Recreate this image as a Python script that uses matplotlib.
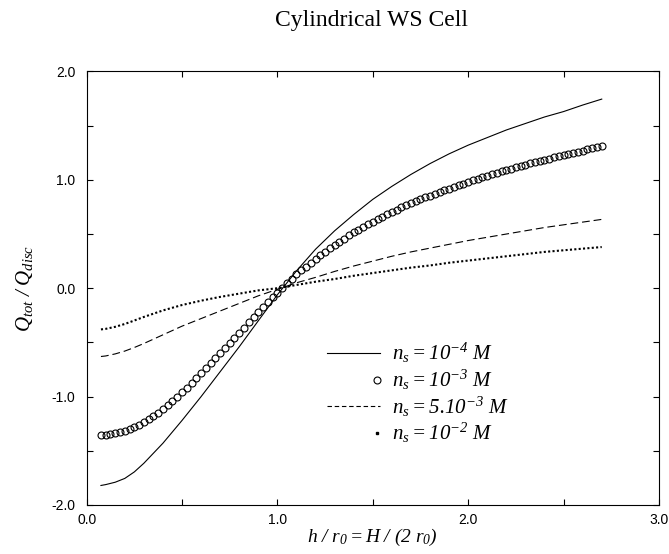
import numpy as np
import matplotlib
matplotlib.use("Agg")
from matplotlib import pyplot as plt
from matplotlib.ticker import MultipleLocator, FormatStrFormatter
from matplotlib.legend_handler import HandlerLine2D
from matplotlib.lines import Line2D

# Times-like italic for all math text, digits included
plt.rcParams['mathtext.fontset'] = 'custom'
plt.rcParams['mathtext.rm'] = 'Liberation Serif:italic'
plt.rcParams['mathtext.it'] = 'Liberation Serif:italic'
plt.rcParams['mathtext.bf'] = 'Liberation Serif:bold'
plt.rcParams['font.family'] = ['Liberation Sans', 'DejaVu Sans']

# h / r0 sampling used for the line curves
x_line = [0.075, 0.1, 0.15, 0.2, 0.25, 0.3, 0.4, 0.5, 0.6, 0.7, 0.8, 0.9, 1.0, 1.1,
          1.2, 1.3, 1.4, 1.5, 1.6, 1.7, 1.8, 1.9, 2.0, 2.1, 2.2, 2.3, 2.4, 2.5,
          2.6, 2.7]

# ns = 1e-4 M (solid)
q_1e4 = [-1.82, -1.812, -1.79, -1.755, -1.695, -1.615, -1.43, -1.22, -1.00, -0.77,
         -0.54, -0.30, -0.06, 0.16, 0.36, 0.53, 0.68, 0.82, 0.94, 1.05, 1.15, 1.24,
         1.32, 1.39, 1.46, 1.52, 1.58, 1.63, 1.69, 1.745]

# ns = 5.10^-3 M (dashed)
q_5e3 = [-0.63, -0.625, -0.606, -0.58, -0.547, -0.51, -0.43, -0.35, -0.28, -0.21,
         -0.14, -0.07, -0.01, 0.05, 0.10, 0.155, 0.205, 0.25, 0.295, 0.335, 0.37,
         0.405, 0.44, 0.47, 0.50, 0.53, 0.56, 0.585, 0.61, 0.635]

# ns = 1e-2 M (dotted)
q_1e2 = [-0.38, -0.375, -0.356, -0.33, -0.298, -0.265, -0.205, -0.155, -0.115, -0.08,
         -0.05, -0.02, 0.0, 0.03, 0.06, 0.085, 0.115, 0.14, 0.165, 0.19, 0.21,
         0.235, 0.255, 0.275, 0.295, 0.315, 0.335, 0.35, 0.365, 0.38]

# ns = 1e-3 M (open circles), one point every 0.025 from 0.075 to 2.7
x_circ = np.round(np.arange(0.075, 2.7001, 0.025), 3)
q_1e3 = [-1.355, -1.350, -1.345, -1.338, -1.328, -1.315, -1.299, -1.280, -1.259, -1.235,
         -1.208, -1.179, -1.148, -1.115, -1.079, -1.041, -1.001, -0.960, -0.917, -0.873,
         -0.829, -0.785, -0.739, -0.693, -0.647, -0.600, -0.553, -0.505, -0.458, -0.410,
         -0.363, -0.315, -0.268, -0.220, -0.174, -0.129, -0.084, -0.040, 0.003, 0.046,
         0.088, 0.130, 0.165, 0.200, 0.235, 0.270, 0.303, 0.336, 0.368, 0.400,
         0.429, 0.458, 0.487, 0.515, 0.541, 0.566, 0.591, 0.615, 0.638, 0.661,
         0.683, 0.705, 0.726, 0.746, 0.766, 0.785, 0.803, 0.821, 0.838, 0.855,
         0.872, 0.888, 0.904, 0.920, 0.935, 0.950, 0.965, 0.980, 0.995, 1.010,
         1.025, 1.040, 1.053, 1.065, 1.078, 1.090, 1.102, 1.115, 1.127, 1.140,
         1.151, 1.162, 1.174, 1.185, 1.196, 1.207, 1.219, 1.230, 1.240, 1.250,
         1.260, 1.270, 1.281, 1.293, 1.304, 1.315]

labels = [r"$n_s = 10^{-4}\ M$", r"$n_s = 10^{-3}\ M$",
          r"$n_s = 5.10^{-3}\ M$", r"$n_s = 10^{-2}\ M$"]


class MarkerAtEnd(HandlerLine2D):
    # marker-only handles: put the single marker at the right end of the handle
    def create_artists(self, legend, orig_handle, xdescent, ydescent,
                       width, height, fontsize, trans):
        arts = super().create_artists(legend, orig_handle, xdescent, ydescent,
                                      width, height, fontsize, trans)
        for a in arts:
            if a.get_linestyle() in ('None', 'none', '') and a.get_marker() not in (None, 'None', '', ' '):
                x = list(a.get_xdata())
                xe = x[-1] - 0.15 * fontsize
                a.set_xdata([xe, xe, xe][:len(x)])
        return arts


fig = plt.figure(figsize=(6.69, 5.54), dpi=100)
ax = fig.add_axes([0.1295, 0.0885, 0.8555, 0.7825])

ax.plot(x_line, q_1e4, color='black', lw=0.8)
ax.plot(x_circ, q_1e3, ls='none', marker='o', ms=5, mfc='none', mec='black', mew=0.8)
ax.plot(x_line, q_5e3, color='black', lw=0.8, ls=(0, (7, 3.5)))
ax.plot(x_line, q_1e2, color='black', lw=1.5, ls=(0, (1, 1.1)), dash_capstyle='butt')

handles = [Line2D([], [], color='black', lw=0.8),
           Line2D([], [], ls='none', marker='o', ms=5, mfc='none', mec='black', mew=0.8),
           Line2D([], [], color='black', lw=0.8, ls=(0, (4, 2.5))),
           Line2D([], [], ls='none', marker='s', ms=1.6, mfc='black', mec='black')]
ax.legend(handles, labels, loc='upper left', bbox_to_anchor=(0.42, 0.378),
          frameon=False, fontsize=15, handlelength=2.55, handletextpad=0.55,
          labelspacing=0.12, borderpad=0, borderaxespad=0, numpoints=1,
          handler_map={Line2D: MarkerAtEnd()})

ax.set_xlim(0, 3.0)
ax.set_ylim(-2.0, 2.0)
ax.xaxis.set_major_locator(MultipleLocator(1.0))
ax.xaxis.set_minor_locator(MultipleLocator(0.5))
ax.yaxis.set_major_locator(MultipleLocator(1.0))
ax.yaxis.set_minor_locator(MultipleLocator(0.5))
ax.xaxis.set_major_formatter(FormatStrFormatter('%.1f'))
ax.yaxis.set_major_formatter(FormatStrFormatter('%.1f'))
ax.tick_params(which='both', direction='in', top=True, right=True,
               length=4, width=0.8, labelsize=10)
ax.tick_params(axis='y', pad=8)
ax.tick_params(axis='x', pad=6)
for s in ax.spines.values():
    s.set_linewidth(0.8)

ax.set_xlabel(r"$h\ /\ r_0 = H\ /\ (2\ r_0)$", fontsize=14, labelpad=0)
ax.set_ylabel(r"$Q_{tot}\ /\ Q_{disc}$", fontsize=15, labelpad=12)
fig.text(0.556, 0.963, "Cylindrical WS Cell", ha='center', va='center',
         family='Liberation Serif', fontsize=17)

fig.savefig("out.png", dpi=100)
